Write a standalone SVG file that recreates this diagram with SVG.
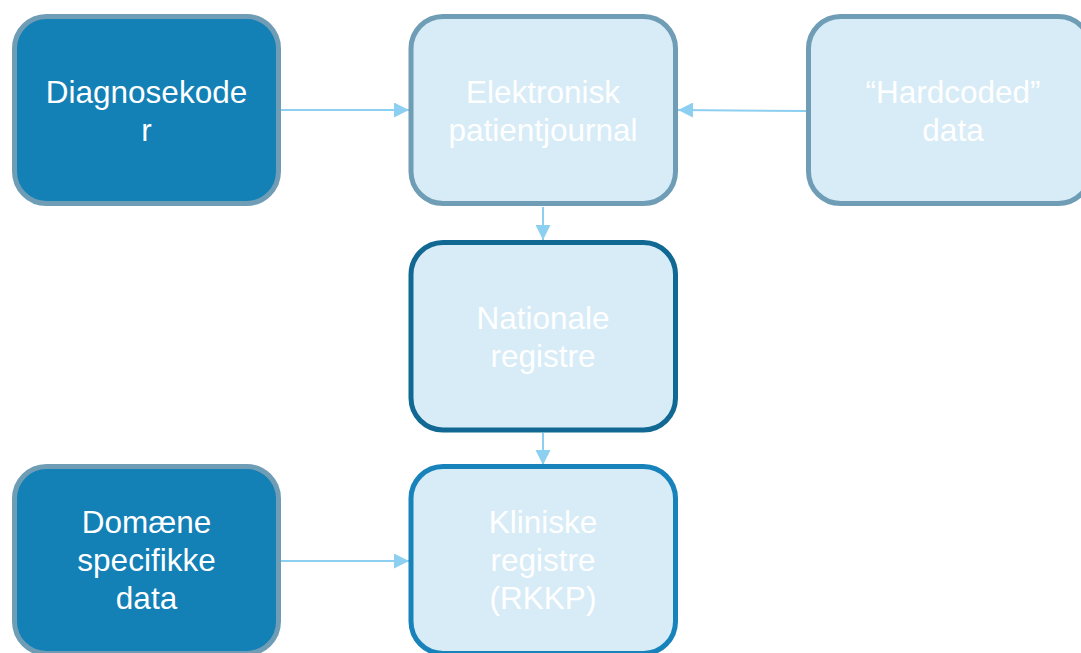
<svg xmlns="http://www.w3.org/2000/svg" width="1081" height="653" viewBox="0 0 1081 653">
<defs>
<style>
.box{stroke-width:5}
.dark{fill:#1380b6;stroke:#6f9db6}
.light{fill:#d7ecf7;stroke:#6f9db6}
.nat{fill:#d7ecf7;stroke:#106893}
.kli{fill:#d7ecf7;stroke:#1882ba}
.t{font-family:"Liberation Sans",Arial,sans-serif;font-size:31.5px;fill:#ffffff;text-anchor:middle}
.c{stroke:#8dcff0;stroke-width:2;fill:none}
</style>
<marker id="ah" viewBox="0 0 10 10" refX="10" refY="5" markerWidth="16" markerHeight="15" markerUnits="userSpaceOnUse" orient="auto">
<path d="M0,0 L10,5 L0,10 Z" fill="#8dcff0"/>
</marker>
</defs>
<rect width="1081" height="653" fill="#ffffff"/>
<g id="connectors">
<line class="c" x1="281" y1="110" x2="409" y2="110" marker-end="url(#ah)"/>
<line class="c" x1="806" y1="111" x2="678" y2="110" marker-end="url(#ah)"/>
<line class="c" x1="543" y1="207" x2="543" y2="240" marker-end="url(#ah)"/>
<line class="c" x1="543" y1="433" x2="543" y2="465" marker-end="url(#ah)"/>
<line class="c" x1="281" y1="561" x2="409" y2="561" marker-end="url(#ah)"/>
</g>
<g id="diagnosekoder">
<rect class="box dark" x="14.5" y="16.5" width="264" height="187" rx="32"/>
<text class="t" x="146.5" y="103">Diagnosekode</text>
<text class="t" x="146.5" y="141">r</text>
</g>
<g id="epj">
<rect class="box light" x="411" y="16.5" width="264.5" height="187" rx="32"/>
<text class="t" x="543" y="103">Elektronisk</text>
<text class="t" x="543" y="141">patientjournal</text>
</g>
<g id="hardcoded">
<rect class="box light" x="808.5" y="16.5" width="282" height="187" rx="32"/>
<text class="t" x="953" y="103">“Hardcoded”</text>
<text class="t" x="953" y="141">data</text>
</g>
<g id="nationale">
<rect class="box nat" x="411" y="242.5" width="264.5" height="187.5" rx="32"/>
<text class="t" x="543" y="329">Nationale</text>
<text class="t" x="543" y="367">registre</text>
</g>
<g id="kliniske">
<rect class="box kli" x="411" y="466.5" width="264.5" height="187" rx="32"/>
<text class="t" x="543" y="533">Kliniske</text>
<text class="t" x="543" y="571">registre</text>
<text class="t" x="543" y="609">(RKKP)</text>
</g>
<g id="domaene">
<rect class="box dark" x="14.5" y="466.5" width="264" height="187" rx="32"/>
<text class="t" x="146.5" y="533">Domæne</text>
<text class="t" x="146.5" y="571">specifikke</text>
<text class="t" x="146.5" y="609">data</text>
</g>
</svg>
